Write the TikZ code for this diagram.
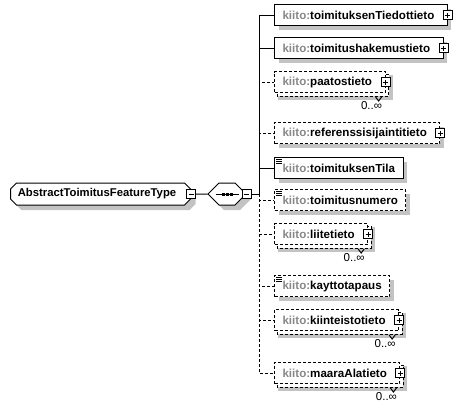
\documentclass[tikz,border=0pt]{standalone}
\usepackage{fontspec}
\setmainfont{Liberation Sans}
\usetikzlibrary{positioning,shapes.misc,shadows,backgrounds}

\definecolor{shadegray}{RGB}{195,195,195}
\definecolor{nsgray}{RGB}{136,136,136}
\newcommand{\kiito}{\textcolor{nsgray}{kiito:}}
\newcommand{\gap}{\hspace*{5pt}}

\tikzset{
    boxshadow/.style={general shadow={fill=shadegray, shadow xshift=4pt, shadow yshift=-4pt}},
    opt/.style={dash pattern=on 3pt off 2pt},
    box/.style={draw, fill=white, anchor=west, minimum height=21pt,
        inner xsep=8pt, inner ysep=0pt, font=\bfseries\fontsize{11.6}{13}\selectfont},
    elem/.style={box, boxshadow},
    multi/.style={box, opt},
    typebox/.style={chamfered rectangle, chamfered rectangle xsep=3pt, chamfered rectangle ysep=3pt,
        draw, fill=white, anchor=west, minimum width=180pt, minimum height=22pt,
        inner sep=0pt, font=\bfseries\fontsize{11.3}{13}\selectfont,
        general shadow={fill=shadegray, shadow xshift=5pt, shadow yshift=-5pt}},
    seqbox/.style={chamfered rectangle, chamfered rectangle xsep=7pt, chamfered rectangle ysep=7pt,
        draw, fill=white, inner sep=0pt,
        general shadow={fill=shadegray, shadow xshift=5pt, shadow yshift=-5pt}},
    toggle/.style={draw, solid, fill=white, minimum size=9pt, inner sep=0pt},
    collapser/.style={toggle, path picture={
        \draw ([xshift=2pt]path picture bounding box.west) -- ([xshift=-2pt]path picture bounding box.east);}},
    expander/.style={toggle, path picture={
        \draw ([xshift=2pt]path picture bounding box.west) -- ([xshift=-2pt]path picture bounding box.east);
        \draw ([yshift=-2pt]path picture bounding box.north) -- ([yshift=2pt]path picture bounding box.south);}},
    mult/.style={anchor=north east, inner sep=0pt, font=\fontsize{11.5}{13}\selectfont}
}

\begin{document}
\begin{tikzpicture}[x=1pt, y=-1pt, line width=1pt]
    \useasboundingbox (0,0) rectangle (463,408);

    % type and sequence
    \node[typebox] (type) at (10,194) {AbstractToimitusFeatureType\hspace*{7pt}};
    \node[collapser] (typeend) at (type.east) {};
    \node[seqbox] (seq) at (227,194) {\rule{0pt}{8pt}\hspace*{30pt}};
    \node[collapser] (seqend) at (seq.east) {};
    \draw ([xshift=8pt]seq.west) -- ([xshift=-8pt]seq.east);
    \foreach \dx in {-4,0,4}
        \fill ([xshift=\dx pt]seq.center) ++(-1.5,-1.5) rectangle ++(3,3);
    \coordinate (bus) at (259,194);

    % child elements
    \node[elem]      (tied) at (274,15)  {\kiito toimituksenTiedottieto\gap};
    \node[elem]      (hak)  at (274,48)  {\kiito toimitushakemustieto\gap};
    \node[multi]     (paat) at (274,82)  {\kiito paatostieto\gap};
    \node[elem, opt] (ref)  at (274,133) {\kiito referenssisijaintitieto\gap};
    \node[elem]      (tila) at (274,168) {\kiito toimituksenTila};
    \node[elem, opt] (num)  at (274,200) {\kiito toimitusnumero};
    \node[multi]     (liit) at (274,234) {\kiito liitetieto\gap};
    \node[elem, opt] (kayt) at (274,286) {\kiito kayttotapaus};
    \node[multi]     (kiin) at (274,320) {\kiito kiinteistotieto\gap};
    \node[multi]     (maar) at (274,373) {\kiito maaraAlatieto\gap};

    % stacked boxes for 0..unbounded
    \begin{scope}[on background layer]
        \foreach \n in {paat, liit, kiin, maar} {
            \fill[shadegray] ([shift={(4,4)}]\n.north west) rectangle ([shift={(7,7)}]\n.south east);
            \draw[opt, fill=white] ([shift={(3,3)}]\n.north west) rectangle ([shift={(3,3)}]\n.south east);
        }
    \end{scope}
    \foreach \n in {paat, liit, kiin, maar} {
        \draw ([shift={(-10,4)}]\n.south east) -- ++(3,4) -- ++(3,-4);
        \node[mult] (\n-occ) at ([shift={(-3,8)}]\n.south east) {0..∞};
    }

    % expand buttons and simple content marks
    \foreach \n in {tied, hak, paat, ref, liit, kiin, maar}
        \node[expander] (\n-exp) at (\n.east) {};
    \foreach \n in {tila, num, kayt}
        \foreach \k in {2,4,6}
            \draw[line width=0.8pt] ([shift={(2,\k)}]\n.north west) -- ++(6,0);

    % connectors
    \draw (typeend) -- (seq);
    \draw (seqend) -- (bus);
    \foreach \n in {tied, hak, tila}
        \draw (bus) |- (\n);
    \foreach \n in {paat, ref, num, liit, kayt, kiin, maar}
        \draw[opt] (bus) |- (\n);

\end{tikzpicture}
\end{document}
